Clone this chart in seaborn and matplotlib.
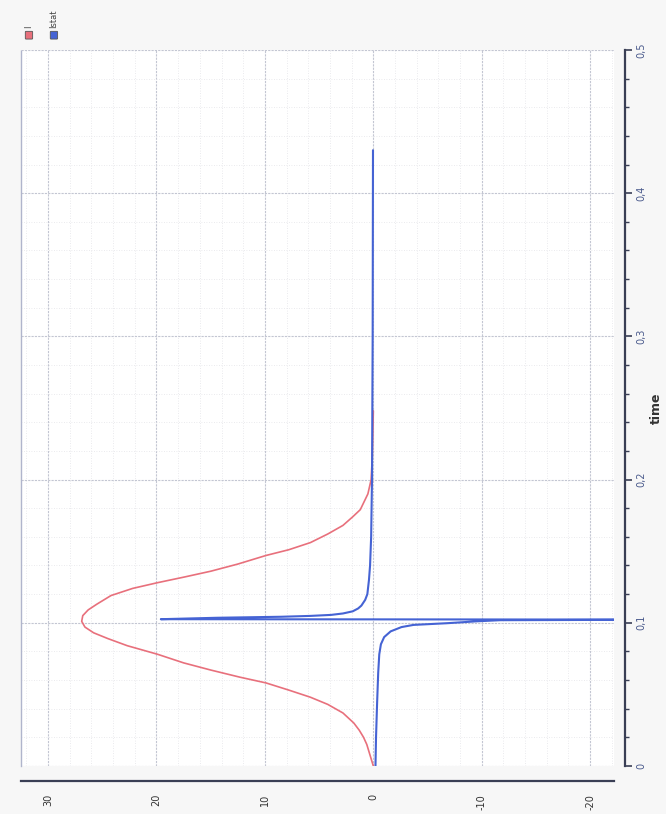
import matplotlib
matplotlib.use("Agg")
import matplotlib.pyplot as plt
import seaborn as sns
import pandas as pd
from matplotlib.ticker import MultipleLocator, FuncFormatter
from matplotlib.patches import FancyBboxPatch

i_time = [0.0, 0.005, 0.010, 0.015, 0.020, 0.025, 0.030, 0.037, 0.043, 0.048, 0.053, 0.058,
          0.062, 0.067, 0.072, 0.078, 0.084, 0.089, 0.093, 0.097, 0.101, 0.105, 0.109, 0.113,
          0.119, 0.124, 0.128, 0.132, 0.136, 0.141, 0.147, 0.151, 0.156, 0.162, 0.168, 0.174,
          0.179, 0.190, 0.200, 0.215, 0.230, 0.248]
i_vals = [0.0, 0.2, 0.4, 0.6, 0.9, 1.3, 1.8, 2.8, 4.2, 5.8, 7.8, 9.9,
          12.3, 15.0, 17.5, 19.9, 22.7, 24.5, 25.8, 26.6, 26.9, 26.8, 26.3, 25.5,
          24.2, 22.2, 19.9, 17.4, 15.0, 12.5, 9.9, 7.8, 5.8, 4.2, 2.8, 1.9,
          1.2, 0.5, 0.2, 0.1, 0.05, 0.0]

istat_time = [0.0, 0.020, 0.044, 0.065, 0.078, 0.085, 0.090, 0.094, 0.097, 0.0985, 0.0997, 0.1010,
              0.1018, 0.1022, 0.1025, 0.1035, 0.1042, 0.1048, 0.1055, 0.1065, 0.108, 0.110,
              0.112, 0.116, 0.120, 0.130, 0.140, 0.160, 0.200, 0.300, 0.430]
istat_vals = [-0.2, -0.25, -0.35, -0.45, -0.55, -0.7, -1.0, -1.6, -2.6, -3.7, -6.8, -9.5,
              -11.7, -30.0, 19.6, 14.4, 8.5, 5.8, 3.9, 2.8, 1.9, 1.4,
              1.1, 0.75, 0.55, 0.4, 0.3, 0.2, 0.12, 0.06, 0.03]

series_names = ["I", "Istat"]
series_colors = ["#e8707c", "#4563d4"]


def comma(v, pos):
    s = f"{v:g}"
    return s.replace(".", ",")


sns.set_theme(style="white")
plt.rcParams['font.family'] = ['DejaVu Sans']
plt.rcParams['axes.unicode_minus'] = False

fig = plt.figure(figsize=(6.66, 8.14), dpi=100, facecolor="#f7f7f7")
ax = fig.add_axes([0.0315, 0.059, 0.8904, 0.8796])
ax.set_facecolor("white")

df_i = pd.DataFrame({"time": i_time, "value": i_vals})
df_s = pd.DataFrame({"time": istat_time, "value": istat_vals})

sns.lineplot(data=df_i, x="value", y="time", sort=False, estimator=None,
             color=series_colors[0], linewidth=1.2, ax=ax)
sns.lineplot(data=df_s, x="value", y="time", sort=False, estimator=None,
             color=series_colors[1], linewidth=1.5, ax=ax)

ax.set_xlim(32.5, -22.2)
ax.set_ylim(0, 0.5)

ax.xaxis.set_major_locator(MultipleLocator(10))
ax.xaxis.set_minor_locator(MultipleLocator(2))
ax.yaxis.set_major_locator(MultipleLocator(0.1))
ax.yaxis.set_minor_locator(MultipleLocator(0.02))
ax.yaxis.set_major_formatter(FuncFormatter(comma))
ax.xaxis.set_major_formatter(FuncFormatter(lambda v, p: f"{v:g}".replace("\u2212", "-")))

ax.grid(which="major", color="#c3c6d2", linewidth=0.8, linestyle=(0, (2, 1)))
ax.grid(which="minor", color="#e3e3e8", linewidth=0.6, linestyle=(0, (1, 2)))
ax.set_axisbelow(True)

ax.yaxis.tick_right()
ax.yaxis.set_label_position("right")
ax.spines["top"].set_visible(False)
ax.spines["left"].set_color("#b0b5cc")
ax.spines["left"].set_linestyle((0, (2, 1)))
ax.spines["left"].set_linewidth(1.0)
ax.spines["bottom"].set_position(("outward", 11))
ax.spines["right"].set_position(("outward", 8))
for side in ["bottom", "right"]:
    ax.spines[side].set_color("#3a3f55")
    ax.spines[side].set_linewidth(1.6)

ax.tick_params(axis="x", which="major", direction="out", length=6, width=1.2,
               color="#3a3f55", labelsize=7, labelcolor="#333333", labelrotation=90, pad=3)
ax.tick_params(axis="x", which="minor", direction="out", length=3, width=1.0, color="#3a3f55")
ax.tick_params(axis="y", which="major", direction="out", length=5, width=1.2,
               color="#3a3f55", labelsize=7, labelcolor="#4a5a8c", labelrotation=90, pad=3)
ax.tick_params(axis="y", which="minor", direction="out", length=3, width=1.0, color="#3a3f55")
for lab in ax.get_yticklabels():
    lab.set_verticalalignment("center")

ax.set_xlabel("")
ax.set_ylabel("time", fontsize=9, fontweight="bold", color="#333333", rotation=90, labelpad=3)

# rotated legend in the top left corner
leg_x = [0.0435, 0.081]
for x0, name, col in zip(leg_x, series_names, series_colors):
    fig.patches.append(FancyBboxPatch((x0 - 0.0045, 0.953), 0.009, 0.0075,
                                      boxstyle="round,pad=0.001", transform=fig.transFigure,
                                      facecolor=col, edgecolor="#555555", linewidth=0.6))
    fig.text(x0, 0.965, name, rotation=90, ha="center", va="bottom", fontsize=6,
             color="#444444")

fig.savefig("out.png", dpi=100, facecolor=fig.get_facecolor())
